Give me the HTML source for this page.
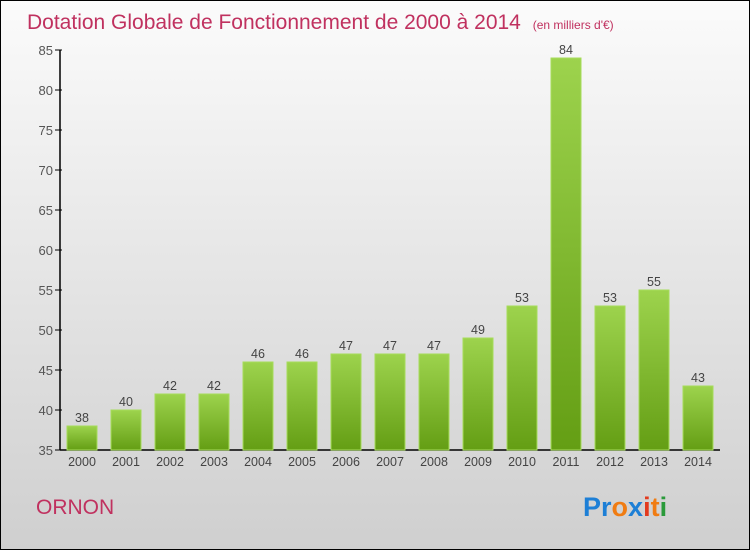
<!DOCTYPE html>
<html><head><meta charset="utf-8"><style>
body{margin:0;}
svg{display:block;font-family:"Liberation Sans",sans-serif;}
</style></head><body>
<svg width="750" height="550">
<defs>
<linearGradient id="bg" x1="0" y1="0" x2="0" y2="1"><stop offset="0" stop-color="#fbfbfb"/><stop offset="1" stop-color="#cfcfcf"/></linearGradient>
<linearGradient id="bar" x1="0" y1="0" x2="0" y2="1"><stop offset="0" stop-color="#9dd34d"/><stop offset="1" stop-color="#649e14"/></linearGradient>
</defs>
<rect x="0.5" y="0.5" width="749" height="549" fill="url(#bg)" stroke="#000"/>
<text x="27" y="29" font-size="21" fill="#c0315f">Dotation Globale de Fonctionnement de 2000 à 2014 <tspan font-size="12" dx="6">(en milliers d'€)</tspan></text>
<g id="axes"></g>
<g id="bars"></g>
<text x="36" y="514" font-size="21" fill="#c0315f">ORNON</text>
<g font-size="27" font-weight="bold">
<text x="583" y="516" fill="#1d7fd6">Pr<tspan fill="#f07c12">o</tspan><tspan fill="#1d7fd6">x</tspan><tspan fill="#e23a1e">i</tspan><tspan fill="#f07c12">t</tspan><tspan fill="#2a9a3a">i</tspan></text>
</g>
</svg>
<script>
const years=["2000","2001","2002","2003","2004","2005","2006","2007","2008","2009","2010","2011","2012","2013","2014"];
const values=[38,40,42,42,46,46,47,47,47,49,53,84,53,55,43];
const yTicks=[35,40,45,50,55,60,65,70,75,80,85];
const NS="http://www.w3.org/2000/svg";
const y0=450,yMin=35,ppu=8;
const yS=v=>y0-(v-yMin)*ppu;
const xS=i=>82+i*44;
function mk(t,a,p,txt){const e=document.createElementNS(NS,t);for(const k in a)e.setAttribute(k,a[k]);if(txt!==undefined)e.textContent=txt;p.appendChild(e);return e;}
const ax=document.getElementById('axes'),bg=document.getElementById('bars');
let l=mk('line',{x1:60,y1:yS(85),x2:60,y2:y0,stroke:'#000','stroke-width':1.5},ax);


l=mk('line',{x1:60,y1:y0,x2:720,y2:y0,stroke:'#000','stroke-width':1.5},ax);


yTicks.forEach(v=>{
 mk('line',{x1:55,y1:yS(v),x2:62,y2:yS(v),stroke:'#000'},ax);
 const t=mk('text',{x:53,y:yS(v)+5,'text-anchor':'end','font-size':13,fill:'#555'},ax,v);
 
 
});
years.forEach((yr,i)=>{
 const x=xS(i),v=values[i];
 const r=mk('rect',{x:x-15,y:yS(v),width:30,height:y0-yS(v),fill:'url(#bar)',stroke:'#a6dc5a','stroke-width':1},bg);
 
 
 const vt=mk('text',{x:x,y:yS(v)-4,'text-anchor':'middle','font-size':12.5,fill:'#444'},bg,v);
 
 
 const xt=mk('text',{x:x,y:466,'text-anchor':'middle','font-size':12.5,fill:'#444'},bg,yr);
 
 
});
</script>
</body></html>
